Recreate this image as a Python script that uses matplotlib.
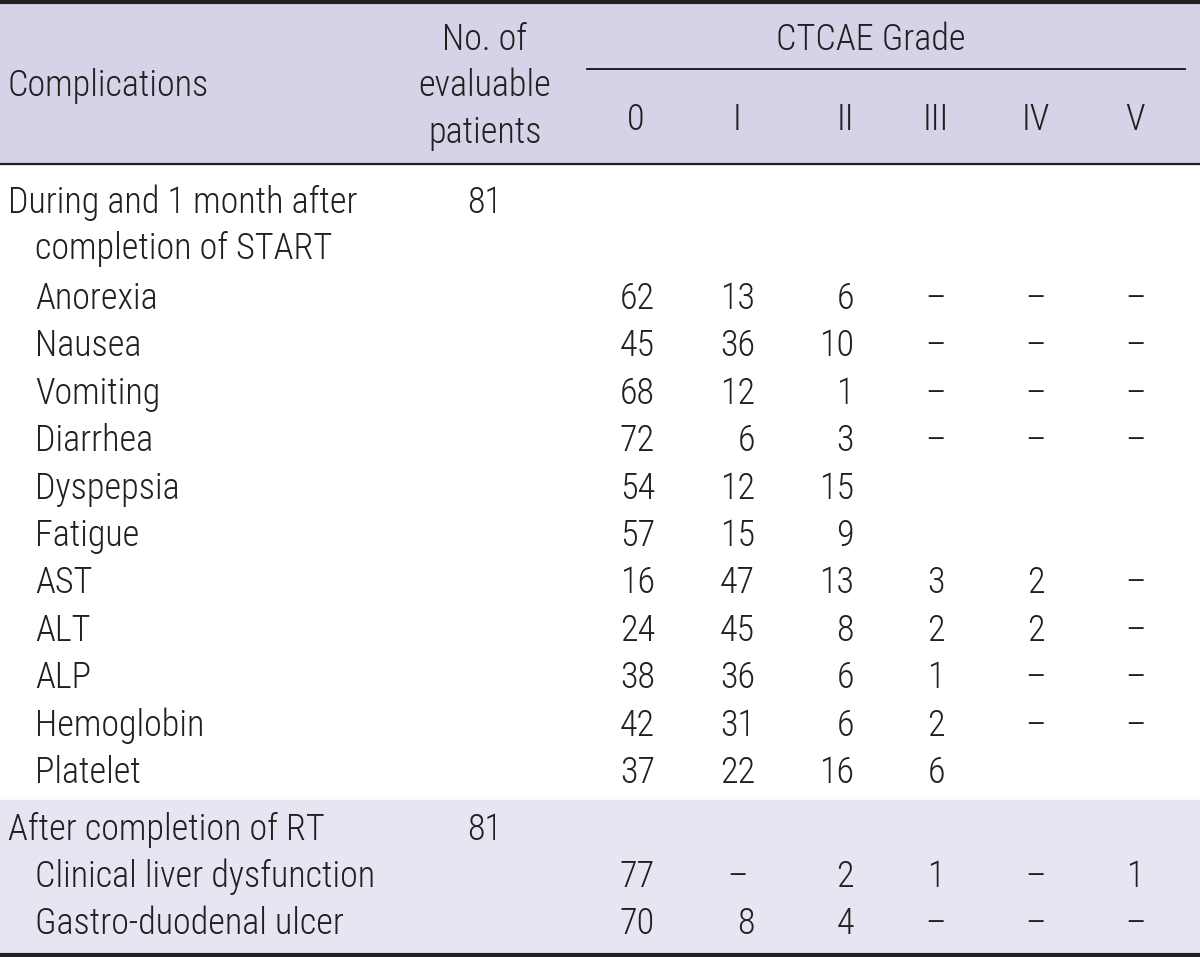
import matplotlib
matplotlib.use("Agg")
import matplotlib.pyplot as plt
from matplotlib.patches import Rectangle
from matplotlib import font_manager

# table content
grades = ["0", "I", "II", "III", "IV", "V"]
section1_title = ["During and 1 month after", "completion of START"]
section1_n = "81"
section1_rows = ["Anorexia", "Nausea", "Vomiting", "Diarrhea", "Dyspepsia", "Fatigue",
                 "AST", "ALT", "ALP", "Hemoglobin", "Platelet"]
# None = blank cell, "–" = dash
section1_vals = [
    ["62", "13", "6", "–", "–", "–"],
    ["45", "36", "10", "–", "–", "–"],
    ["68", "12", "1", "–", "–", "–"],
    ["72", "6", "3", "–", "–", "–"],
    ["54", "12", "15", None, None, None],
    ["57", "15", "9", None, None, None],
    ["16", "47", "13", "3", "2", "–"],
    ["24", "45", "8", "2", "2", "–"],
    ["38", "36", "6", "1", "–", "–"],
    ["42", "31", "6", "2", "–", "–"],
    ["37", "22", "16", "6", None, None],
]
section2_title = "After completion of RT"
section2_n = "81"
section2_rows = ["Clinical liver dysfunction", "Gastro-duodenal ulcer"]
section2_vals = [
    ["77", "–", "2", "1", "–", "1"],
    ["70", "8", "4", "–", "–", "–"],
]

# look for a narrow sans font, the reference uses a condensed face
fam, stretch = 'DejaVu Sans', 'normal'
ttf = font_manager.fontManager.ttflist
names = {f.name for f in ttf}
for n in ['Liberation Sans Narrow', 'Roboto Condensed', 'Open Sans Condensed',
          'Noto Sans Condensed', 'DejaVu Sans Condensed']:
    if n in names:
        fam = n
        break
else:
    for n in ['DejaVu Sans', 'Noto Sans', 'Roboto', 'Open Sans', 'Liberation Sans']:
        hit = [f for f in ttf if f.name == n and str(f.stretch) in
               ('condensed', 'semi-condensed', 'extra-condensed', '75', '87.5', '62.5')]
        if hit:
            fam, stretch = n, hit[0].stretch
            break

plt.rcParams['font.family'] = [fam, 'DejaVu Sans']
plt.rcParams['font.stretch'] = stretch
plt.rcParams['font.weight'] = 'light'

W, H = 1200, 957
fig = plt.figure(figsize=(W / 100, H / 100), dpi=100)
ax = fig.add_axes([0, 0, 1, 1])
ax.set_xlim(0, W)
ax.set_ylim(H, 0)
ax.axis('off')

txt = '#231f20'
fs = 26
off = 3  # text sits a little low in the reference


def put(x, y, s, ha='left'):
    ax.text(x, y + off, s, fontsize=fs, color=txt, va='center', ha=ha)


# backgrounds
ax.add_patch(Rectangle((0, 0), W, 164, color='#d4d3e7', zorder=0))
ax.add_patch(Rectangle((0, 800), W, 157, color='#e6e5f1', zorder=0))

# rules
ax.plot([0, W], [1.5, 1.5], color=txt, lw=3)
ax.plot([0, W], [164, 164], color=txt, lw=1.6)
ax.plot([587, 1185], [69, 69], color=txt, lw=1.4)
ax.plot([0, W], [955, 955], color=txt, lw=3)

# header
put(8, 83, "Complications")
for i, s in enumerate(["No. of", "evaluable", "patients"]):
    put(485, 37 + i * 46.5, s, ha='center')
put(871, 37, "CTCAE Grade", ha='center')

col_center = [636, 737, 845, 936, 1036, 1135]
col_right = [655, 755, 854, None, None, None]
for g, cx in zip(grades, col_center):
    put(cx, 117, g, ha='center')


def put_row(label, vals, y, indent=35):
    put(indent, y, label)
    for j, v in enumerate(vals):
        if v is None:
            continue
        if v == "–" or col_right[j] is None:
            put(col_center[j], y, v, ha='center')
        else:
            put(col_right[j], y, v, ha='right')


# section 1
put(8, 200, section1_title[0])
put(35, 246, section1_title[1])
put(485, 200, section1_n, ha='center')
y0, dy = 296, 47.4
for i, (lab, vals) in enumerate(zip(section1_rows, section1_vals)):
    put_row(lab, vals, y0 + i * dy)

# section 2
put(8, 827, section2_title)
put(485, 827, section2_n, ha='center')
for i, (lab, vals) in enumerate(zip(section2_rows, section2_vals)):
    put_row(lab, vals, 874 + i * 47)

fig.savefig("out.png", dpi=100)
